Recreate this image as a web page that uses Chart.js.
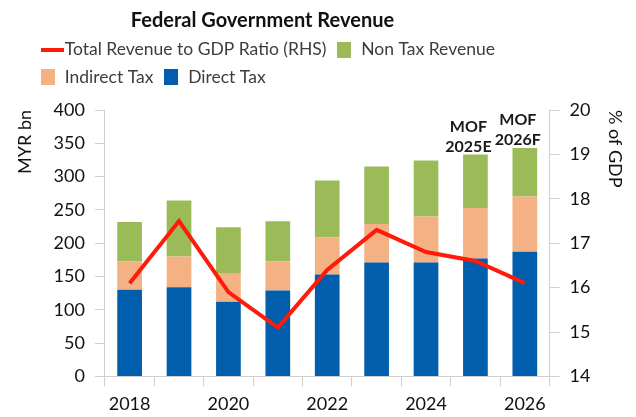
<!DOCTYPE html>
<html lang="en">
<head>
    <meta charset="UTF-8">
    <title>Federal Government Revenue</title>
    <script src="https://cdn.jsdelivr.net/npm/chart.js@4.4.0/dist/chart.umd.min.js"></script>
    <style>
        body { margin: 0; background: #fff; }
        #wrap { width: 636px; height: 417px; }
    </style>
</head>
<body>
    <div id="wrap"><canvas id="revenueChart" width="636" height="417"></canvas></div>
    <script>
        // data (MYR bn, ratio in % of GDP)
        const years = ['2018', '2019', '2020', '2021', '2022', '2023', '2024', '2025', '2026'];
        const directTax = [130, 134, 112, 129, 153, 171, 171, 177, 187];
        const indirectTax = [43, 46, 42, 44, 56, 58, 69, 76, 83];
        const nonTaxRevenue = [59, 84, 70, 60, 85, 86, 84, 80, 73];
        const revenueToGdp = [16.1, 17.5, 15.9, 15.1, 16.4, 17.3, 16.8, 16.6, 16.1];
        const barNotes = ['', '', '', '', '', '', '', 'MOF\n2025E', 'MOF\n2026F'];

        const textColor = '#3a3e42';
        const axisColor = '#d0d0d0';
        const legendWidth = 500;

        // small canvases used as legend markers
        function marker(w, h, color, x0) {
            const c = document.createElement('canvas');
            c.width = w; c.height = h;
            const g = c.getContext('2d');
            g.fillStyle = color;
            g.fillRect(x0 || 0, 0, w - (x0 || 0), h);
            return c;
        }
        const markers = [
            marker(14, 16, '#005eac'),
            marker(14, 16, '#f4b183'),
            marker(14, 16, '#9bbb59'),
            marker(32, 4, '#ff1a0a', 9)
        ];

        // legend rows wrap at legendWidth and the block sits a bit to the right
        const legendTweak = {
            id: 'legendTweak',
            beforeLayout(chart) {
                const lg = chart.legend;
                if (lg && !lg._narrow) {
                    const upd = lg.update.bind(lg);
                    lg.update = (w, h, m) => upd(Math.min(w, legendWidth), h, m);
                    lg._narrow = true;
                }
            },
            afterLayout(chart) {
                chart.legend.left += 16;
                chart.legend.right = chart.legend.left + legendWidth;
            }
        };

        // "MOF 2025E" style notes above the last bars
        const barNotesPlugin = {
            id: 'barNotes',
            afterDatasetsDraw(chart) {
                const ctx = chart.ctx;
                const meta = chart.getDatasetMeta(2);
                ctx.save();
                ctx.font = 'bold 16px Lato';
                ctx.fillStyle = '#1a1a1a';
                ctx.textAlign = 'center';
                ctx.textBaseline = 'alphabetic';
                meta.data.forEach((bar, i) => {
                    if (!barNotes[i]) return;
                    const lines = barNotes[i].split('\n');
                    lines.forEach((t, k) => {
                        ctx.fillText(t, bar.x - 7, bar.y - 3 - (lines.length - 1 - k) * 20);
                    });
                });
                ctx.restore();
            }
        };

        let ctx = document.getElementById('revenueChart').getContext('2d');
        new Chart(ctx, {
            data: {
                labels: years,
                datasets: [
                    { type: 'bar', label: 'Direct Tax', data: directTax, backgroundColor: '#005eac', yAxisID: 'y', stack: 'rev', order: 2 },
                    { type: 'bar', label: 'Indirect Tax', data: indirectTax, backgroundColor: '#f4b183', yAxisID: 'y', stack: 'rev', order: 2 },
                    { type: 'bar', label: 'Non Tax Revenue', data: nonTaxRevenue, backgroundColor: '#9bbb59', yAxisID: 'y', stack: 'rev', order: 2 },
                    {
                        type: 'line', label: 'Total Revenue to GDP Ratio (RHS)', data: revenueToGdp,
                        borderColor: '#ff1a0a', backgroundColor: '#ff1a0a', borderWidth: 4,
                        pointRadius: 0, tension: 0, yAxisID: 'y1', order: 1
                    }
                ]
            },
            options: {
                responsive: false,
                animation: false,
                layout: { padding: { top: 0, left: 14, right: 6, bottom: -5 } },
                datasets: { bar: { barPercentage: 0.5, categoryPercentage: 1 } },
                plugins: {
                    tooltip: { enabled: false },
                    title: { display: false },
                    // empty spacer between legend and plot
                    subtitle: { display: true, text: '', weight: 100, font: { size: 10, lineHeight: 1 }, padding: { top: 4, bottom: 0 } },
                    legend: {
                        position: 'top',
                        align: 'start',
                        title: {
                            display: true,
                            text: 'Federal Government Revenue',
                            position: 'center',
                            color: '#111',
                            font: { family: 'Lato', size: 20, weight: 'bold', lineHeight: 1 },
                            padding: { top: 11, bottom: 0 }
                        },
                        labels: {
                            usePointStyle: true,
                            boxWidth: 16,
                            boxHeight: 16,
                            padding: 10,
                            color: textColor,
                            font: { family: 'Lato', size: 17.5 },
                            sort: (a, b) => b.datasetIndex - a.datasetIndex,
                            generateLabels(chart) {
                                const items = Chart.defaults.plugins.legend.labels.generateLabels(chart);
                                items.forEach(it => { it.pointStyle = markers[it.datasetIndex]; });
                                return items;
                            }
                        }
                    }
                },
                scales: {
                    x: {
                        stacked: true,
                        grid: { offset: true, drawOnChartArea: false, color: axisColor, tickLength: 10 },
                        border: { color: axisColor },
                        ticks: {
                            autoSkip: false,
                            maxRotation: 0,
                            padding: 7,
                            color: '#111',
                            font: { family: 'Lato', size: 18 },
                            callback: (v, i) => (i % 2 === 0 ? years[i] : '')
                        }
                    },
                    y: {
                        stacked: true,
                        position: 'left',
                        min: 0,
                        max: 400,
                        grid: { drawOnChartArea: false, color: axisColor, tickLength: 10 },
                        border: { color: axisColor },
                        ticks: { stepSize: 50, padding: 10, color: '#111', font: { family: 'Lato', size: 18 } },
                        title: { display: true, text: 'MYR bn', align: 'end', color: '#111', font: { family: 'Lato', size: 18 }, padding: { top: 0, bottom: 8 } }
                    },
                    y1: {
                        position: 'right',
                        min: 14,
                        max: 20,
                        grid: { drawOnChartArea: false, color: axisColor, tickLength: 10 },
                        border: { color: axisColor },
                        ticks: { stepSize: 1, padding: 10, color: '#111', font: { family: 'Lato', size: 18 } },
                        title: { display: true, text: '% of GDP', align: 'end', color: '#111', font: { family: 'Lato', size: 18 }, padding: 4 }
                    }
                }
            },
            plugins: [legendTweak, barNotesPlugin]
        });
    </script>
</body>
</html>
